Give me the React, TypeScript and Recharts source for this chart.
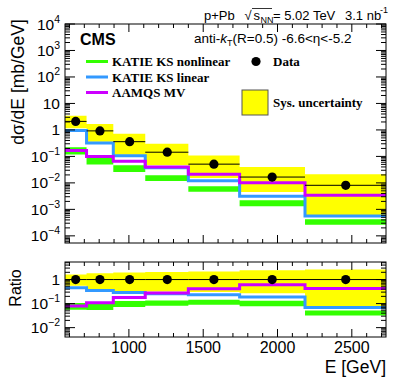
import React from 'react';
import {
  ComposedChart,
  Area,
  Line,
  Scatter,
  ErrorBar,
  XAxis,
  YAxis,
} from 'recharts';

// bin edges and centres [GeV]
const binEdges = [570, 715, 895, 1110, 1400, 1745, 2185, 2730];
const binCentres = [642, 805, 1005, 1258, 1572, 1964, 2459];

// measured cross section [mb/GeV] and systematic band
const dataValues = [2.1, 0.92, 0.36, 0.144, 0.051, 0.0166, 0.0081];
const sysHigh = [3.4, 1.68, 0.71, 0.3, 0.109, 0.04, 0.021];
const sysLow = [1.15, 0.36, 0.115, 0.046, 0.0153, 0.0045, 0.0006];

// model predictions
const ksNonlinearHigh = [0.22, 0.093, 0.046, 0.0195, 0.0074, 0.0022, 0.00042];
const ksNonlinearLow = [0.117, 0.05, 0.026, 0.0118, 0.0046, 0.0013, 0.00026];
const ksLinear = [0.95, 0.32, 0.105, 0.037, 0.012, 0.0031, 0.00056];
const aamqsMV = [0.167, 0.1, 0.065, 0.04, 0.021, 0.0102, 0.0034];

// axis ticks
const xTicks = [600, 700, 800, 900, 1000, 1100, 1200, 1300, 1400, 1500, 1600, 1700, 1800, 1900, 2000, 2100, 2200, 2300, 2400, 2500, 2600, 2700];
const mainDecades = [-5, -4, -3, -2, -1, 0, 1, 2, 3];
const ratioDecades = [-3, -2, -1, 0];

const mainDomain: [number, number] = [Math.pow(10, -4.27), 1e4];
const ratioDomain: [number, number] = [Math.pow(10, -2.39), Math.pow(10, 0.73)];

const C_YELLOW = '#ffff00';
const C_GREEN = '#33ff00';
const C_BLUE = '#3399ff';
const C_PURPLE = '#cc00ff';

// plot frame (page coordinates)
const L = 65;
const R = 386;
const T1 = 24;
const B1 = 243;
const TOP2 = 250;
const T2 = 12;
const B2 = 87;

const logTicks = (decades: number[], domain: [number, number]) => {
  const out: number[] = [];
  decades.forEach((d) => {
    for (let m = 1; m <= 9; m++) {
      const v = m * Math.pow(10, d);
      if (v >= domain[0] && v <= domain[1]) out.push(v);
    }
  });
  const last = Math.pow(10, decades[decades.length - 1] + 1);
  if (domain[1] >= last) out.push(last);
  return out;
};

const mainRows = binEdges.map((E, i) => {
  const k = Math.min(i, dataValues.length - 1);
  return {
    E,
    sys: [sysLow[k], sysHigh[k]],
    green: [ksNonlinearLow[k], ksNonlinearHigh[k]],
    blue: ksLinear[k],
    purple: aamqsMV[k],
  };
});

const ratioRows = binEdges.map((E, i) => {
  const k = Math.min(i, dataValues.length - 1);
  const d = dataValues[k];
  return {
    E,
    sys: [sysLow[k] / d, sysHigh[k] / d],
    green: [ksNonlinearLow[k] / d, ksNonlinearHigh[k] / d],
    blue: ksLinear[k] / d,
    purple: aamqsMV[k] / d,
  };
});

const points = binCentres.map((c, i) => ({
  E: c,
  v: dataValues[i],
  ex: [c - binEdges[i], binEdges[i + 1] - c],
}));
const ratioPoints = points.map((p) => ({ ...p, v: 1 }));

const XTick = (props: any) => {
  const { x, payload, top, bottom, labels } = props;
  const v = payload.value;
  const major = v % 500 === 0;
  const len = major ? 8 : 4;
  return (
    <g>
      <line x1={x} x2={x} y1={bottom} y2={bottom - len} stroke="#000" />
      <line x1={x} x2={x} y1={top} y2={top + len} stroke="#000" />
      {labels && major && (
        <text x={x} y={bottom + 15.5} textAnchor="middle" fontSize={16} fontFamily="Liberation Sans" fill="#000">
          {v}
        </text>
      )}
    </g>
  );
};

const YTick = (props: any) => {
  const { y, payload } = props;
  const v = payload.value;
  const lg = Math.log10(v);
  const e = Math.round(lg);
  const major = Math.abs(lg - e) < 1e-6;
  const len = major ? 10 : 5;
  let label: React.ReactNode = null;
  if (major) {
    if (e === 0) label = '1';
    else if (e === 1) label = '10';
    else
      label = (
        <>
          10
          <tspan dy={-7} fontSize={10.5}>
            {e < 0 ? '\u2212' + Math.abs(e) : e}
          </tspan>
        </>
      );
  }
  return (
    <g>
      <line x1={L} x2={L + len} y1={y} y2={y} stroke="#000" />
      <line x1={R} x2={R - len} y1={y} y2={y} stroke="#000" />
      {label && (
        <text x={60} y={y + 5.5} textAnchor="end" fontSize={15.5} fontFamily="Liberation Sans" fill="#000">
          {label}
        </text>
      )}
    </g>
  );
};

const Dot = (p: any) => <circle cx={p.cx} cy={p.cy} r={4.6} fill="#000" />;

const Panel = ({ rows, pts, domain, ticks, height, top, bottom, labels }: any) => (
  <ComposedChart
    width={407}
    height={height}
    data={rows}
    margin={{ top, right: 407 - R, bottom: height - bottom - 1, left: L - 1 }}
  >
    <XAxis
      dataKey="E"
      type="number"
      domain={[binEdges[0], binEdges[binEdges.length - 1]]}
      allowDataOverflow
      ticks={xTicks}
      interval={0}
      height={1}
      axisLine={false}
      tickLine={false}
      tick={<XTick top={top} bottom={bottom} labels={labels} />}
    />
    <YAxis
      type="number"
      scale="log"
      domain={domain}
      allowDataOverflow
      ticks={ticks}
      interval={0}
      width={1}
      axisLine={false}
      tickLine={false}
      tick={<YTick />}
    />
    <Area type="stepAfter" dataKey="sys" fill={C_YELLOW} fillOpacity={1} stroke="none" isAnimationActive={false} />
    <Area type="stepAfter" dataKey="green" fill={C_GREEN} fillOpacity={1} stroke="none" isAnimationActive={false} />
    <Line type="stepAfter" dataKey="blue" stroke={C_BLUE} strokeWidth={3} dot={false} isAnimationActive={false} />
    <Line type="stepAfter" dataKey="purple" stroke={C_PURPLE} strokeWidth={3} dot={false} isAnimationActive={false} />
    <Scatter data={pts} dataKey="v" shape={<Dot />} isAnimationActive={false}>
      <ErrorBar dataKey="ex" direction="x" width={0} stroke="#000" strokeWidth={1} isAnimationActive={false} />
    </Scatter>
  </ComposedChart>
);

const legendRows = [
  { name: 'KATIE KS nonlinear', color: C_GREEN },
  { name: 'KATIE KS linear', color: C_BLUE },
  { name: 'AAMQS MV', color: C_PURPLE },
];

export default function App() {
  return (
    <div style={{ position: 'absolute', left: 0, top: 0, width: 407, height: 388, background: '#fff' }}>
      <div style={{ position: 'absolute', left: 0, top: 0 }}>
        <Panel
          rows={mainRows}
          pts={points}
          domain={mainDomain}
          ticks={logTicks(mainDecades, mainDomain)}
          height={250}
          top={T1}
          bottom={B1}
          labels={false}
        />
      </div>
      <div style={{ position: 'absolute', left: 0, top: TOP2 }}>
        <Panel
          rows={ratioRows}
          pts={ratioPoints}
          domain={ratioDomain}
          ticks={logTicks(ratioDecades, ratioDomain)}
          height={138}
          top={T2}
          bottom={B2}
          labels={true}
        />
      </div>
      <svg
        width={407}
        height={388}
        style={{ position: 'absolute', left: 0, top: 0, pointerEvents: 'none' }}
        fontFamily="Liberation Sans"
      >
        <rect x={L} y={T1} width={R - L} height={B1 - T1} fill="none" stroke="#000" />
        <rect x={L} y={TOP2 + T2} width={R - L} height={B2 - T2} fill="none" stroke="#000" />

        {/* header */}
        <text x={204} y={19.5} fontSize={13}>p+Pb</text>
        <text x={244.5} y={20} fontSize={13}>{'\u221A'}</text>
        <line x1={252} x2={272} y1={8.5} y2={8.5} stroke="#000" strokeWidth={0.8} />
        <text x={253.5} y={19.5} fontSize={13}>s</text>
        <text x={260.5} y={22.5} fontSize={9}>NN</text>
        <text x={273} y={19.5} fontSize={13}>= 5.02 TeV</text>
        <text x={345} y={19.5} fontSize={13}>3.1 nb</text>
        <text x={380} y={13} fontSize={9}>-1</text>

        <text x={80} y={45} fontSize={16} fontWeight="bold">CMS</text>
        <text x={194} y={42.5} fontSize={13.5}>
          anti-<tspan fontStyle="italic">k</tspan>
          <tspan dy={3} fontSize={9}>T</tspan>
          <tspan dy={-3}>(R=0.5) -6.6&lt;η&lt;-5.2</tspan>
        </text>

        {/* legend */}
        {legendRows.map((r, i) => (
          <g key={r.name}>
            <line x1={86} x2={108} y1={61.5 + i * 15.5} y2={61.5 + i * 15.5} stroke={r.color} strokeWidth={3} />
            <text x={112} y={66 + i * 15.5} fontSize={13} fontWeight="bold" fontFamily="Liberation Serif">
              {r.name}
            </text>
          </g>
        ))}
        <circle cx={256} cy={61.5} r={4.6} fill="#000" />
        <text x={273} y={66} fontSize={13} fontWeight="bold" fontFamily="Liberation Serif">Data</text>
        <rect x={242} y={90} width={26} height={25} fill={C_YELLOW} stroke="#555" strokeWidth={1} />
        <text x={273} y={107} fontSize={13} fontWeight="bold" fontFamily="Liberation Serif">Sys. uncertainty</text>

        {/* axis titles */}
        <text transform="translate(23.5,82) rotate(-90)" textAnchor="middle" fontSize={17.5}>
          dσ/dE [mb/GeV]
        </text>
        <text transform="translate(20.5,288) rotate(-90)" textAnchor="middle" fontSize={16}>
          Ratio
        </text>
        <text x={386} y={373} textAnchor="end" fontSize={17.5}>E [GeV]</text>
      </svg>
    </div>
  );
}
